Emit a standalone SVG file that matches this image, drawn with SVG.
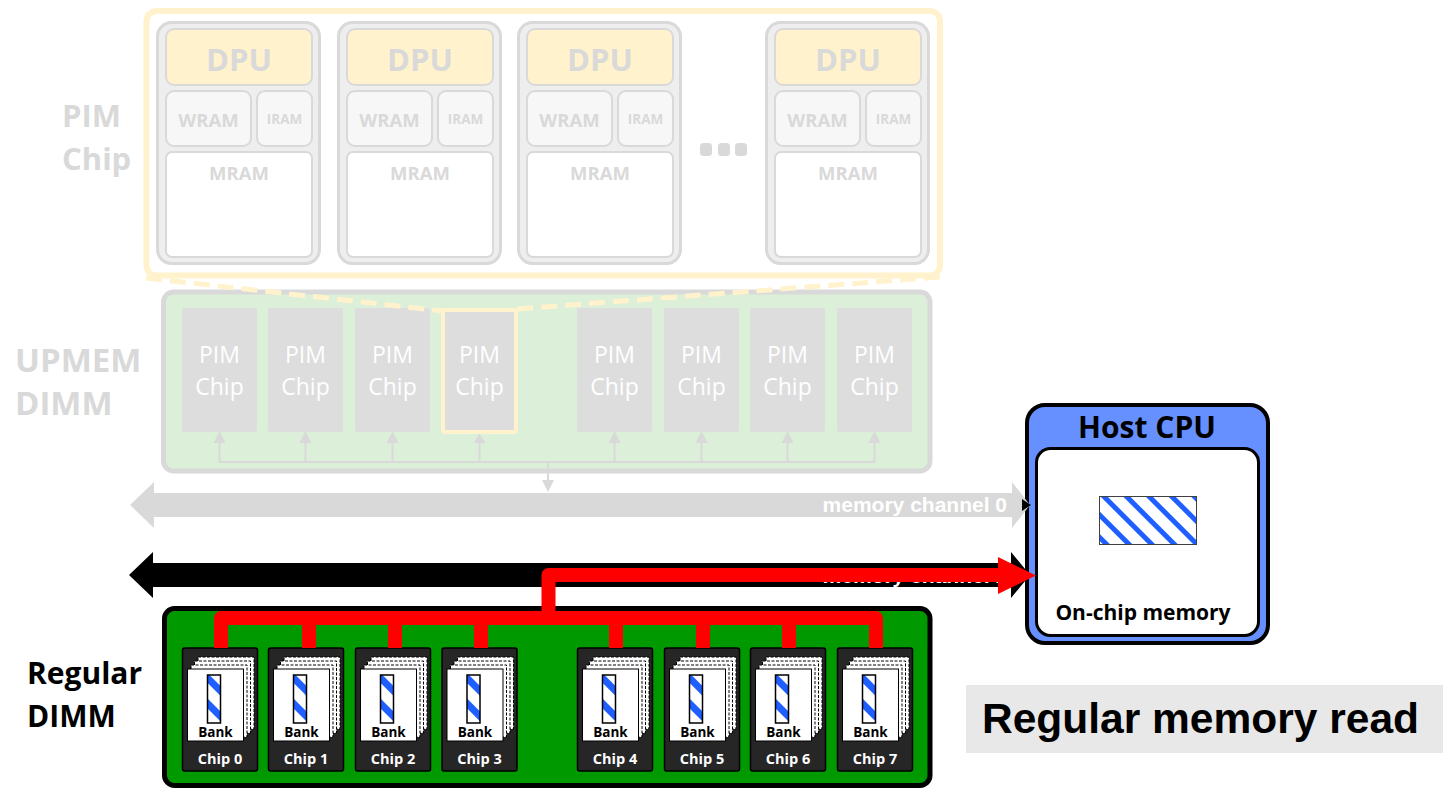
<svg xmlns="http://www.w3.org/2000/svg" xmlns:xlink="http://www.w3.org/1999/xlink" width="1443" height="789" viewBox="0 0 1443 789">
  <style>
    .sans{font-family:"Open Sans","Noto Sans",sans-serif}
    .arial{font-family:"Liberation Sans",Arial,sans-serif}
    .faint{fill:#D9D9D9;font-weight:700}
    .dpu-outer{fill:#EEEEEE;stroke:#D9D9D9;stroke-width:3}
    .dpu-core{fill:#FFF2CC;stroke:#D9D9D9;stroke-width:2}
    .ram{fill:#F7F7F7;stroke:#D9D9D9;stroke-width:2}
    .mram{fill:#FFFFFF;stroke:#D9D9D9;stroke-width:2}
    .pimchip{fill:#DDDDDD}
    .pimtxt{fill:#FFFFFF;font-size:23px;text-anchor:middle}
    .gbus{stroke:#D9D9D9;stroke-width:2;fill:none}
    .ghead{fill:#D9D9D9}
    .mid{text-anchor:middle}
    .card{fill:#FFFFFF;stroke:#000;stroke-width:1}
    .cardback{fill:#FFFFFF;stroke:#000;stroke-width:1;stroke-dasharray:3 1.5}
    .chiplbl{fill:#FFFFFF;font-weight:700;font-size:14.5px;text-anchor:middle}
    .red{stroke:#FF0000;stroke-width:14;fill:none;stroke-linejoin:round}
    .chan{font-size:21px;font-weight:700;fill:#FFFFFF;text-anchor:end}
  </style>
  <defs>
    <pattern id="barStripes" width="18" height="18" patternUnits="userSpaceOnUse" patternTransform="rotate(45)">
      <rect width="18" height="18" fill="#FFFFFF"/>
      <rect width="18" height="7" fill="#1F5FFF"/>
    </pattern>
    <pattern id="memStripes" width="16" height="16" patternUnits="userSpaceOnUse" patternTransform="rotate(45)">
      <rect width="16" height="16" fill="#FFFFFF"/>
      <rect width="16" height="5" fill="#1F5FFF"/>
    </pattern>
    <!-- one DPU tile: core, WRAM, IRAM, MRAM -->
    <g id="dpuShape">
      <rect class="dpu-outer" x="1.5" y="1.5" width="162" height="241" rx="14"/>
      <rect class="dpu-core" x="10" y="8" width="146" height="56" rx="8"/>
      <rect class="ram" x="10" y="70" width="85" height="55" rx="8"/>
      <rect class="ram" x="101" y="70" width="55" height="55" rx="8"/>
      <rect class="mram" x="10" y="131" width="146" height="105" rx="6"/>
      <text class="sans faint mid" x="83" y="50" font-size="31">DPU</text>
      <text class="sans faint mid" x="52.5" y="106" font-size="18.5">WRAM</text>
      <text class="sans faint mid" x="128.5" y="103" font-size="13.5">IRAM</text>
      <text class="sans faint mid" x="83" y="159" font-size="18.5">MRAM</text>
    </g>
    <!-- one DRAM chip with its stack of banks -->
    <g id="dramChip">
      <rect x="0" y="0" width="75" height="123" rx="2" fill="#262626" stroke="#000" stroke-width="1.5"/>
      <rect class="cardback" x="15.5" y="9" width="56" height="72"/>
      <rect class="cardback" x="12" y="13" width="56" height="72"/>
      <rect class="cardback" x="8.5" y="17" width="56" height="72"/>
      <rect class="card" x="5" y="21" width="56" height="72"/>
      <rect x="25" y="27" width="13" height="48" fill="url(#barStripes)" stroke="#000" stroke-width="1.5"/>
      <text class="sans mid" x="33" y="89" font-size="13.5" font-weight="700" fill="#000">Bank</text>
    </g>
  </defs>

  <rect width="1443" height="789" fill="#FFFFFF"/>

  <!-- side labels -->
  <g id="labels">
    <text class="sans faint" x="62" y="127" font-size="31">PIM</text>
    <text class="sans faint" x="62" y="170" font-size="31">Chip</text>
    <text class="sans faint" x="15" y="372" font-size="33">UPMEM</text>
    <text class="sans faint" x="15" y="415" font-size="33">DIMM</text>
    <text class="sans" x="27" y="684" font-size="30" font-weight="700" fill="#000">Regular</text>
    <text class="sans" x="27" y="727" font-size="30" font-weight="700" fill="#000">DIMM</text>
  </g>

  <!-- PIM chip detail -->
  <g id="pim-chip">
    <rect x="146.5" y="11" width="793.5" height="264.5" rx="10" fill="#FFFFFF" stroke="#FFF2CC" stroke-width="6"/>
    <g id="dpu-1"><use xlink:href="#dpuShape" x="156" y="21"/></g>
    <g id="dpu-2"><use xlink:href="#dpuShape" x="337" y="21"/></g>
    <g id="dpu-3"><use xlink:href="#dpuShape" x="517" y="21"/></g>
    <g id="ellipsis" fill="#D9D9D9">
      <rect x="700" y="143" width="12" height="13" rx="3.5"/>
      <rect x="718" y="143" width="12" height="13" rx="3.5"/>
      <rect x="735" y="143" width="12" height="13" rx="3.5"/>
    </g>
    <g id="dpu-n"><use xlink:href="#dpuShape" x="765" y="21"/></g>
  </g>

  <!-- UPMEM DIMM -->
  <g id="upmem-dimm">
    <rect x="163.5" y="292" width="766.5" height="179" rx="10" fill="#DBEFD9" stroke="#D9D9D9" stroke-width="5"/>
    <g id="pim-0"><rect class="pimchip" x="182" y="308" width="75" height="124" rx="2"/><text class="sans pimtxt" x="219.5" y="363">PIM</text><text class="sans pimtxt" x="219.5" y="395">Chip</text></g>
    <g id="pim-1"><rect class="pimchip" x="268" y="308" width="75" height="124" rx="2"/><text class="sans pimtxt" x="305.5" y="363">PIM</text><text class="sans pimtxt" x="305.5" y="395">Chip</text></g>
    <g id="pim-2"><rect class="pimchip" x="355" y="308" width="75" height="124" rx="2"/><text class="sans pimtxt" x="392.5" y="363">PIM</text><text class="sans pimtxt" x="392.5" y="395">Chip</text></g>
    <g id="pim-3"><rect class="pimchip" x="443" y="310" width="73" height="122" rx="2" stroke="#FFF2CC" stroke-width="4"/><text class="sans pimtxt" x="479.5" y="363">PIM</text><text class="sans pimtxt" x="479.5" y="395">Chip</text></g>
    <g id="pim-4"><rect class="pimchip" x="577" y="308" width="75" height="124" rx="2"/><text class="sans pimtxt" x="614.5" y="363">PIM</text><text class="sans pimtxt" x="614.5" y="395">Chip</text></g>
    <g id="pim-5"><rect class="pimchip" x="664" y="308" width="75" height="124" rx="2"/><text class="sans pimtxt" x="701.5" y="363">PIM</text><text class="sans pimtxt" x="701.5" y="395">Chip</text></g>
    <g id="pim-6"><rect class="pimchip" x="750" y="308" width="75" height="124" rx="2"/><text class="sans pimtxt" x="787.5" y="363">PIM</text><text class="sans pimtxt" x="787.5" y="395">Chip</text></g>
    <g id="pim-7"><rect class="pimchip" x="837" y="308" width="75" height="124" rx="2"/><text class="sans pimtxt" x="874.5" y="363">PIM</text><text class="sans pimtxt" x="874.5" y="395">Chip</text></g>
  </g>

  <!-- Regular DIMM -->
  <g id="regular-dimm">
    <rect x="164.5" y="608.5" width="765.5" height="177" rx="10" fill="#009900" stroke="#000" stroke-width="5"/>
  </g>
  <g id="chip-0"><use xlink:href="#dramChip" x="182.5" y="648"/><text class="sans chiplbl" x="220" y="764">Chip 0</text></g>
  <g id="chip-1"><use xlink:href="#dramChip" x="268.5" y="648"/><text class="sans chiplbl" x="306" y="764">Chip 1</text></g>
  <g id="chip-2"><use xlink:href="#dramChip" x="355.5" y="648"/><text class="sans chiplbl" x="393" y="764">Chip 2</text></g>
  <g id="chip-3"><use xlink:href="#dramChip" x="442" y="648"/><text class="sans chiplbl" x="479.5" y="764">Chip 3</text></g>
  <g id="chip-4"><use xlink:href="#dramChip" x="577.5" y="648"/><text class="sans chiplbl" x="615" y="764">Chip 4</text></g>
  <g id="chip-5"><use xlink:href="#dramChip" x="664.5" y="648"/><text class="sans chiplbl" x="702" y="764">Chip 5</text></g>
  <g id="chip-6"><use xlink:href="#dramChip" x="750.5" y="648"/><text class="sans chiplbl" x="788" y="764">Chip 6</text></g>
  <g id="chip-7"><use xlink:href="#dramChip" x="837.5" y="648"/><text class="sans chiplbl" x="875" y="764">Chip 7</text></g>

  <!-- Host CPU -->
  <g id="host-cpu">
    <rect x="1027" y="405" width="241" height="238" rx="18" fill="#6690FF" stroke="#000" stroke-width="4"/>
    <text class="sans mid" x="1147" y="438" font-size="30" font-weight="700" fill="#000">Host CPU</text>
    <rect x="1036.5" y="448.5" width="222" height="187" rx="14" fill="#FFFFFF" stroke="#000" stroke-width="3"/>
    <rect x="1099.5" y="496.5" width="97" height="48" fill="url(#memStripes)" stroke="#404040" stroke-width="1"/>
    <text class="sans mid" x="1143" y="620" font-size="21" font-weight="700" fill="#000">On-chip memory</text>
  </g>

  <!-- connectors -->
  <g id="connectors">
    <!-- zoom-in guides from the PIM chip outline to the highlighted chip -->
    <g stroke="#FFF2CC" stroke-width="5" stroke-dasharray="16 8" fill="none">
      <line x1="146" y1="278" x2="443" y2="311"/>
      <line x1="940" y1="277" x2="517" y2="309"/>
    </g>
    <!-- UPMEM internal bus -->
    <path class="gbus" d="M219.5 443 V462 H874.5 V443 M305.5 462 V443 M392.5 462 V443 M479.5 462 V443 M614.5 462 V443 M701.5 462 V443 M787.5 462 V443 M548 462 V482"/>
    <g class="ghead">
      <polygon points="213.5,443 225.5,443 219.5,431"/>
      <polygon points="299.5,443 311.5,443 305.5,431"/>
      <polygon points="386.5,443 398.5,443 392.5,431"/>
      <polygon points="473.5,443 485.5,443 479.5,434"/>
      <polygon points="608.5,443 620.5,443 614.5,431"/>
      <polygon points="695.5,443 707.5,443 701.5,431"/>
      <polygon points="781.5,443 793.5,443 787.5,431"/>
      <polygon points="868.5,443 880.5,443 874.5,431"/>
      <polygon points="542,480 554,480 548,492"/>
    </g>
    <!-- memory channel 0 -->
    <polygon points="130,505 154,482 154,493 1012,493 1012,482 1030,505 1012,528 1012,517 154,517 154,528" fill="#D9D9D9"/>
    <polygon points="1022,499 1031,505 1022,511" fill="#000"/>
    <text class="arial chan" x="1007" y="512">memory channel 0</text>
    <!-- memory channel 1 -->
    <polygon points="129,575 153,552 153,563 1011,563 1011,552 1030,575 1011,598 1011,587 153,587 153,598" fill="#000"/>
    <text class="arial chan" x="1007" y="583">memory channel 1</text>
    <!-- data path of the read: every chip to the host -->
    <path class="red" d="M221 648 V618 H876 V648 M309 618 V648 M395 618 V648 M481 618 V648 M616 618 V648 M703 618 V648 M789 618 V648"/>
    <path class="red" d="M548.5 618 V575 H1000"/>
    <polygon points="998,557 1036,575.5 998,594" fill="#FF0000"/>
  </g>

  <!-- caption -->
  <g id="caption">
    <rect x="966" y="685" width="477" height="68" fill="#E8E8E8"/>
    <text class="arial" x="982" y="733" font-size="42.5" font-weight="700" fill="#000">Regular memory read</text>
  </g>
</svg>
